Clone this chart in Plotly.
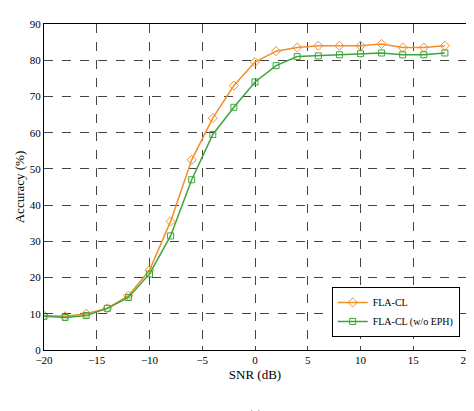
import plotly.graph_objs as go

snr = [-20, -18, -16, -14, -12, -10, -8, -6, -4, -2, 0, 2, 4, 6, 8, 10, 12, 14, 16, 18]
acc_fla = [9.5, 9.3, 10, 11.5, 15, 22, 35.5, 52.5, 64, 73, 79.5, 82.5, 83.5, 84, 84, 84, 84.5, 83.5, 83.5, 84]
acc_no_eph = [9.3, 9, 9.5, 11.5, 14.5, 21, 31.5, 47, 59.5, 67, 74, 78.5, 81, 81.2, 81.5, 81.8, 82, 81.5, 81.5, 82]

font = dict(family="Liberation Serif", size=11, color="black")

fig = go.Figure()
fig.add_trace(go.Scatter(x=snr, y=acc_fla, name="FLA-CL", mode="lines+markers",
                         line=dict(color="#f28e2b", width=1.5),
                         marker=dict(symbol="diamond-open", size=7, color="#f28e2b")))
fig.add_trace(go.Scatter(x=snr, y=acc_no_eph, name="FLA-CL (w/o EPH)", mode="lines+markers",
                         line=dict(color="#3aa53a", width=1.5),
                         marker=dict(symbol="square-open", size=6, color="#3aa53a")))

axis = dict(showline=True, linecolor="black", mirror=True, ticks="inside", ticklen=4,
            showgrid=True, gridcolor="#444", griddash="dash", gridwidth=0.8, zeroline=False)

fig.update_layout(
    width=474, height=411, font=font,
    plot_bgcolor="white", paper_bgcolor="white",
    margin=dict(l=36, r=11, t=10, b=69),
    xaxis=dict(axis, range=[-20, 20], dtick=5,
               title=dict(text="SNR (dB)", standoff=4)),
    yaxis=dict(axis, range=[0, 90], dtick=10,
               title=dict(text="Accuracy (%)", standoff=2)),
    legend=dict(x=0.985, y=0.04, xanchor="right", yanchor="bottom",
                bordercolor="black", borderwidth=1, bgcolor="white",
                font=dict(size=10), tracegroupgap=0),
    showlegend=True,
    annotations=[dict(text="<b>(c)</b>", x=0.5, y=-0.17, xref="paper", yref="paper",
                      yanchor="top", showarrow=False, font=dict(size=13))],
)

fig.write_html("out.html")
